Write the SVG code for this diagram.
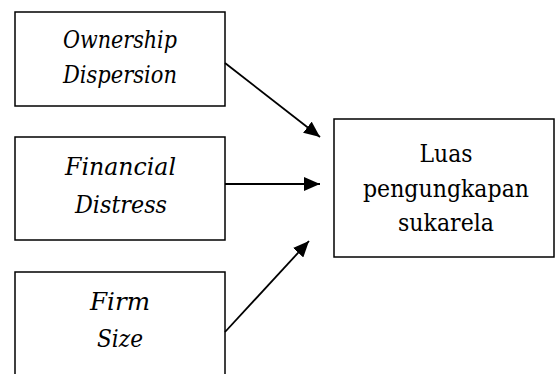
<svg xmlns="http://www.w3.org/2000/svg" width="555" height="374" viewBox="0 0 555 374">
<style>
.box{fill:#fff;stroke:#000;stroke-width:1.5}
.it{font-family:"DejaVu Serif","Liberation Serif",serif;font-style:italic;font-size:24px;text-anchor:middle;fill:#000}
.up{font-family:"DejaVu Serif","Liberation Serif",serif;font-size:24px;text-anchor:middle;fill:#000}
.ln{stroke:#000;stroke-width:1.8;fill:none}
</style>
<defs>
<marker id="ah" viewBox="0 0 16 14" refX="16" refY="7" markerWidth="16" markerHeight="14" markerUnits="userSpaceOnUse" orient="auto">
<path d="M0,0 L16,7 L0,14 Z" fill="#000"/>
</marker>
</defs>
<g id="ownership">
<rect class="box" x="15" y="12" width="210" height="94"/>
<text class="it" x="120" y="48" textLength="114" lengthAdjust="spacingAndGlyphs">Ownership</text>
<text class="it" x="120" y="83" textLength="114" lengthAdjust="spacingAndGlyphs">Dispersion</text>
</g>
<g id="financial">
<rect class="box" x="15" y="137" width="210" height="103"/>
<text class="it" x="120.5" y="175" textLength="111" lengthAdjust="spacingAndGlyphs">Financial</text>
<text class="it" x="121" y="213" textLength="92" lengthAdjust="spacingAndGlyphs">Distress</text>
</g>
<g id="firmsize">
<rect class="box" x="15" y="272" width="210" height="110"/>
<text class="it" x="120" y="310" textLength="60" lengthAdjust="spacingAndGlyphs">Firm</text>
<text class="it" x="120" y="347" textLength="46" lengthAdjust="spacingAndGlyphs">Size</text>
</g>
<g id="luas">
<rect class="box" x="334" y="119" width="220" height="138"/>
<text class="up" x="446" y="162" textLength="53" lengthAdjust="spacingAndGlyphs">Luas</text>
<text class="up" x="446" y="197" textLength="166" lengthAdjust="spacingAndGlyphs">pengungkapan</text>
<text class="up" x="446" y="231" textLength="96" lengthAdjust="spacingAndGlyphs">sukarela</text>
</g>
<g id="connectors">
<line class="ln" x1="225" y1="63" x2="320" y2="137" marker-end="url(#ah)"/>
<line class="ln" x1="225" y1="184" x2="320" y2="184" marker-end="url(#ah)"/>
<line class="ln" x1="225" y1="332" x2="309" y2="241" marker-end="url(#ah)"/>
</g>
</svg>
